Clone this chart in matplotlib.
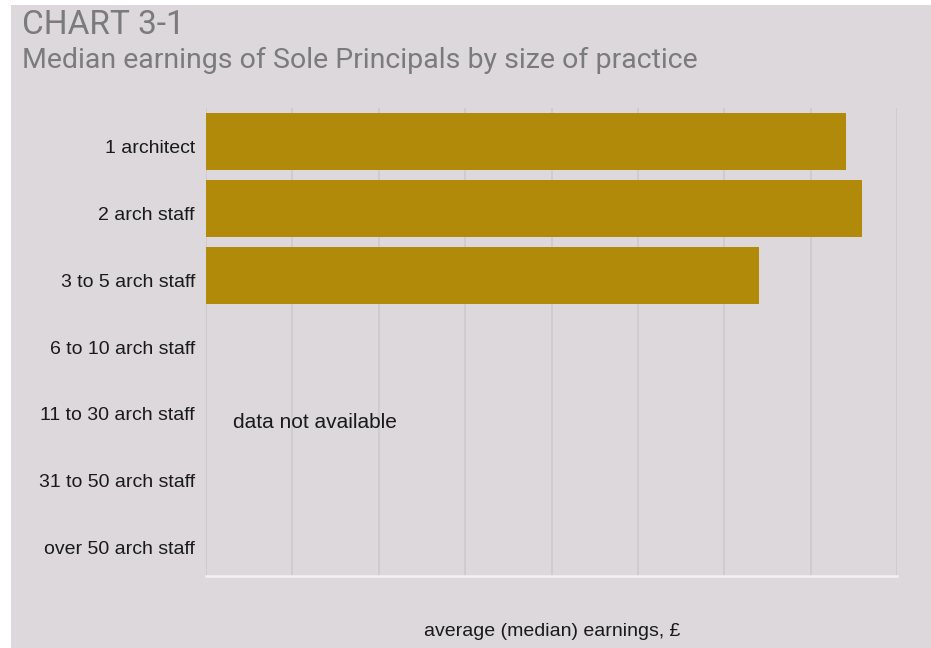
import matplotlib.pyplot as plt
from matplotlib.patches import Rectangle
from matplotlib.transforms import ScaledTranslation

# Chart data
categories = ["1 architect", "2 arch staff", "3 to 5 arch staff", "6 to 10 arch staff",
              "11 to 30 arch staff", "31 to 50 arch staff", "over 50 arch staff"]
earnings = [74100, 76000, 64000, None, None, None, None]

bg = "#dcd8dc"
bar_color = "#b28a0a"

fig = plt.figure(figsize=(9.31, 6.48), dpi=100)
fig.patch.set_facecolor("white")
fig.patches.append(Rectangle((11 / 931, 0), 1 - 11 / 931, 1 - 5 / 648,
                             transform=fig.transFigure, facecolor=bg,
                             edgecolor="none", zorder=-10))

ax = fig.add_axes([206 / 931, 1 - 576 / 648, (897 - 206) / 931, (576 - 108) / 648])
ax.set_facecolor(bg)

ypos = list(range(len(categories)))
vals = [v if v is not None else 0 for v in earnings]
ax.barh(ypos, vals, height=0.85, color=bar_color, zorder=3)

ax.set_ylim(len(categories) - 0.5, -0.5)
ax.set_xlim(0, 80000)
ax.set_xticks(range(0, 80001, 10000))
ax.set_xticklabels([])
ax.tick_params(axis="x", length=0)
ax.tick_params(axis="y", length=0, pad=8)
ax.set_yticks(ypos)
ax.set_yticklabels(categories, fontsize=14, family="Liberation Sans", color="#1a1a1a")
shift = ScaledTranslation(0, -5 / 100, fig.dpi_scale_trans)
for lab in ax.get_yticklabels():
    lab.set_transform(lab.get_transform() + shift)
ax.grid(axis="x", color="#cdc9cd", lw=1.2, zorder=0)

for s in ["top", "right", "left"]:
    ax.spines[s].set_visible(False)
ax.spines["bottom"].set_color("#f2f0f2")
ax.spines["bottom"].set_linewidth(1.8)

ax.text(3100, 4.2, "data not available", fontsize=15, family="Liberation Sans",
        color="#1a1a1a", va="center", ha="left")

fig.text(552 / 931, 1 - 632 / 648, "average (median) earnings, £", fontsize=14,
         family="Liberation Sans", color="#1a1a1a", ha="center", va="center")

fig.text(22 / 931, 1 - 34 / 648, "CHART 3-1", fontsize=24, family="Roboto",
         color="#7b7b7b", ha="left", va="baseline")
fig.text(22 / 931, 1 - 68 / 648, "Median earnings of Sole Principals by size of practice",
         fontsize=20.5, family="Roboto", color="#7b7b7b",
         ha="left", va="baseline")

fig.savefig("out.png", dpi=100, facecolor=fig.get_facecolor())
